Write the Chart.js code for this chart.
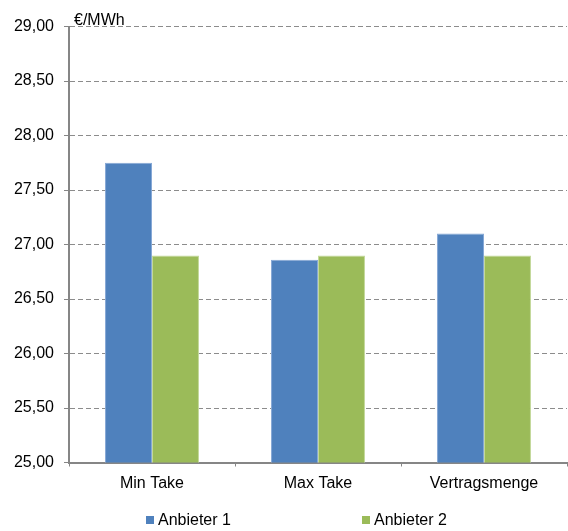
<!DOCTYPE html>
<html>
<head>
<meta charset="utf-8">
<title>Preisvergleich Anbieter</title>
<script src="https://cdn.jsdelivr.net/npm/chart.js@4/dist/chart.umd.min.js"></script>
<style>
  html, body { margin: 0; padding: 0; background: #fff; }
  #wrap { position: relative; width: 568px; height: 531px; overflow: hidden; }
  #chart { position: absolute; left: 0; top: 0; }
  #legend { position: absolute; left: 0; top: 511px; width: 568px; height: 18px;
            font: 16px "Liberation Sans", Arial, sans-serif; color: #000; }
  .item { position: absolute; top: 0; height: 18px; display: flex; align-items: center; white-space: nowrap; }
  .box { width: 8px; height: 8px; margin-right: 4px; }
</style>
</head>
<body>
<div id="wrap">
  <canvas id="chart" width="568" height="531"></canvas>
  <div id="legend"></div>
</div>
<script>
// Kategorien und Preise (€/MWh)
const categories = ['Min Take', 'Max Take', 'Vertragsmenge'];
const seriesNames = ['Anbieter 1', 'Anbieter 2'];
const anbieter1 = [27.75, 26.86, 27.10];
const anbieter2 = [26.90, 26.90, 26.90];
const yTickLabels = ['25,00', '25,50', '26,00', '26,50', '27,00', '27,50', '28,00', '28,50', '29,00'];
const unitLabel = '€/MWh';

const colors = ['#4F81BD', '#9BBB59'];
const edgeColors = ['#86a8d6', '#c3d99a'];
const legendLeft = [146, 362];
const axisGray = '#868686';
const gridGray = '#8c8c8c';
const FONT = '"Liberation Sans", Arial, sans-serif';

Chart.defaults.font.family = FONT;
Chart.defaults.font.size = 16;
Chart.defaults.color = '#000';

// Einheit oben links über der y-Achse
const unitPlugin = {
  id: 'unitLabel',
  afterDraw(chart) {
    const { ctx, chartArea } = chart;
    ctx.save();
    ctx.font = '16px ' + FONT;
    ctx.fillStyle = '#000';
    ctx.textAlign = 'left';
    ctx.textBaseline = 'alphabetic';
    ctx.fillText(unitLabel, chartArea.left + 5, 24.5);
    ctx.restore();
  }
};

const seriesData = [anbieter1, anbieter2];

const chart = new Chart(document.getElementById('chart'), {
  type: 'bar',
  data: {
    labels: categories,
    datasets: seriesNames.map((name, i) => ({
      label: name,
      data: seriesData[i],
      backgroundColor: colors[i],
      borderColor: edgeColors[i],
      borderWidth: 1,
      categoryPercentage: 0.566,
      barPercentage: 1.0
    }))
  },
  options: {
    responsive: false,
    animation: false,
    devicePixelRatio: 1,
    layout: { padding: { top: 26.5, right: 1, bottom: 31, left: 0 } },
    plugins: {
      legend: { display: false },
      tooltip: { enabled: false },
      title: { display: false }
    },
    scales: {
      x: {
        afterFit(scale) { scale.height = 37.5; },
        grid: {
          display: true,
          drawOnChartArea: false,
          drawTicks: true,
          tickLength: 4,
          tickColor: axisGray,
          tickWidth: 1,
          offset: true
        },
        border: { display: true, color: axisGray, width: 2 },
        ticks: { padding: 7, color: '#000', font: { size: 16 } }
      },
      y: {
        min: 25,
        max: 29,
        afterFit(scale) { scale.width = 69; },
        grid: {
          color: gridGray,
          lineWidth: 1,
          drawTicks: true,
          tickLength: 5,
          tickColor: axisGray,
          tickWidth: 1,
          tickBorderDash: []
        },
        border: { display: true, color: axisGray, width: 2, dash: [5, 3] },
        ticks: {
          stepSize: 0.5,
          padding: 10,
          color: '#000',
          font: { size: 16 },
          callback: (value, index) => yTickLabels[index]
        }
      }
    }
  },
  plugins: [unitPlugin]
});

// Legende unter dem Diagramm
const legend = document.getElementById('legend');
seriesNames.forEach((name, i) => {
  const item = document.createElement('div');
  item.className = 'item';
  item.style.left = legendLeft[i] + 'px';
  const box = document.createElement('span');
  box.className = 'box';
  box.style.background = colors[i];
  const text = document.createElement('span');
  text.textContent = name;
  item.appendChild(box);
  item.appendChild(text);
  legend.appendChild(item);
});
</script>
</body>
</html>
